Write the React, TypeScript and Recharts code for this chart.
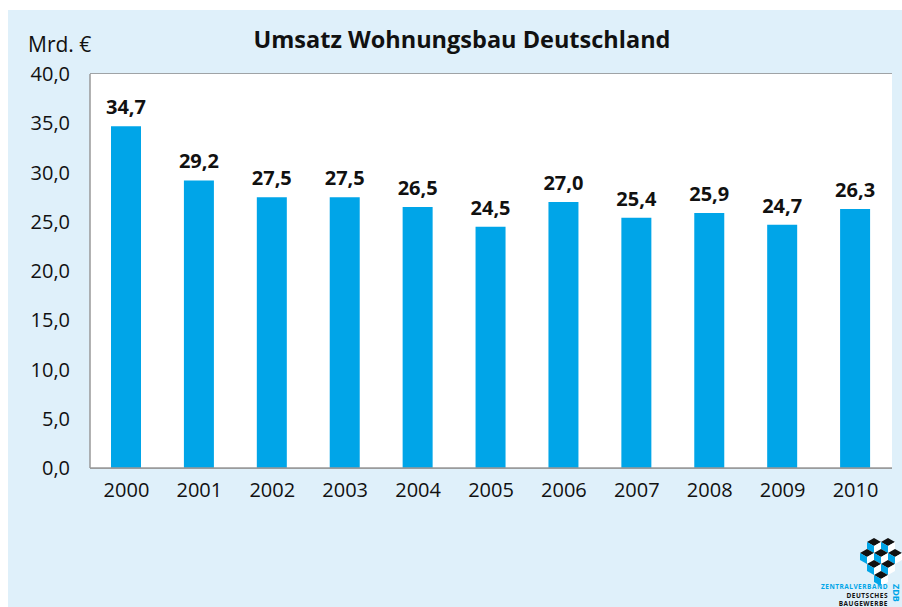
import { BarChart, Bar, XAxis, YAxis, CartesianGrid, LabelList } from 'recharts';

const years = ['2000', '2001', '2002', '2003', '2004', '2005', '2006', '2007', '2008', '2009', '2010'];
const umsatz = [34.7, 29.2, 27.5, 27.5, 26.5, 24.5, 27.0, 25.4, 25.9, 24.7, 26.3];
const yTicks = [0, 5, 10, 15, 20, 25, 30, 35, 40];

const data = years.map((year, i) => ({ year, value: umsatz[i] }));

const font = '"Open Sans", "Noto Sans", sans-serif';
const fmt = (v: number) => v.toFixed(1).replace('.', ',');

// little cube logo, decoration only
const cubes = [
  [874, 542], [888, 542],
  [867, 553], [881, 553], [895, 553],
  [874, 564], [888, 564],
  [881, 575],
];

function Cube({ x, y }: { x: number; y: number }) {
  const w = 7;
  const h = 4;
  const d = 7;
  return (
    <g>
      <polygon points={`${x},${y - h} ${x + w},${y} ${x},${y + h} ${x - w},${y}`} fill="#111" />
      <polygon points={`${x - w},${y} ${x},${y + h} ${x},${y + h + d} ${x - w},${y + d}`} fill="#00a5e8" />
      <polygon points={`${x},${y + h} ${x + w},${y} ${x + w},${y + d} ${x},${y + h + d}`} fill="#ffffff" />
    </g>
  );
}

export default function App() {
  return (
    <div style={{ position: 'absolute', left: 0, top: 0, width: 902, height: 607, background: '#fff', overflow: 'hidden', fontFamily: font }}>
      <div style={{ position: 'absolute', left: 8, top: 10, width: 894, height: 597, background: '#dff0fa' }}>
        <div style={{ position: 'absolute', left: 0, top: 13, width: 894, textAlign: 'center', paddingLeft: 14, boxSizing: 'border-box', fontSize: 23.5, fontWeight: 700, color: '#111' }}>
          Umsatz Wohnungsbau Deutschland
        </div>
        <div style={{ position: 'absolute', left: 20, top: 20, fontSize: 21, color: '#111' }}>Mrd. €</div>
        <div style={{ position: 'absolute', left: 0, top: 0 }}>
          <BarChart width={894} height={597} data={data} margin={{ top: 64, right: 10, left: 0, bottom: 99 }} barSize={30}>
            <rect x={82} y={64} width={802} height={394} fill="#ffffff" />
            <CartesianGrid vertical={false} stroke="#8a8a8a" strokeWidth={1.5} />
            <XAxis
              dataKey="year"
              height={40}
              tickLine={false}
              axisLine={{ stroke: '#999', strokeWidth: 1.5 }}
              tick={{ fontSize: 20, fill: '#111', fontFamily: font }}
              tickMargin={9}
              interval={0}
            />
            <YAxis
              width={82}
              domain={[0, 40]}
              ticks={yTicks}
              tickFormatter={fmt}
              tickLine={false}
              axisLine={{ stroke: '#999', strokeWidth: 1.5 }}
              tick={{ fontSize: 20, fill: '#111', fontFamily: font }}
              tickMargin={14}
              interval={0}
            />
            <Bar dataKey="value" fill="#00a5e8" isAnimationActive={false}>
              <LabelList dataKey="value" position="top" offset={12} formatter={(v: any) => fmt(Number(v))} style={{ fontSize: 20, fontWeight: 700, fill: '#111', fontFamily: font }} />
            </Bar>
          </BarChart>
        </div>
      </div>
      <svg width={902} height={607} style={{ position: 'absolute', left: 0, top: 0, pointerEvents: 'none' }}>
        {cubes.map(([x, y], i) => (
          <Cube key={i} x={x} y={y} />
        ))}
        <text x={888} y={589} textAnchor="end" fontSize={6.5} fontWeight={700} fill="#00a5e8" fontFamily={font} letterSpacing={0.5}>ZENTRALVERBAND</text>
        <text x={888} y={597.5} textAnchor="end" fontSize={6.5} fontWeight={700} fill="#111" fontFamily={font} letterSpacing={0.5}>DEUTSCHES</text>
        <text x={888} y={606} textAnchor="end" fontSize={6.5} fontWeight={700} fill="#111" fontFamily={font} letterSpacing={0.5}>BAUGEWERBE</text>
        <text x={893} y={584} fontSize={9} fontWeight={700} fill="#00a5e8" fontFamily={font} transform="rotate(90 893 584)">ZDB</text>
      </svg>
    </div>
  );
}
